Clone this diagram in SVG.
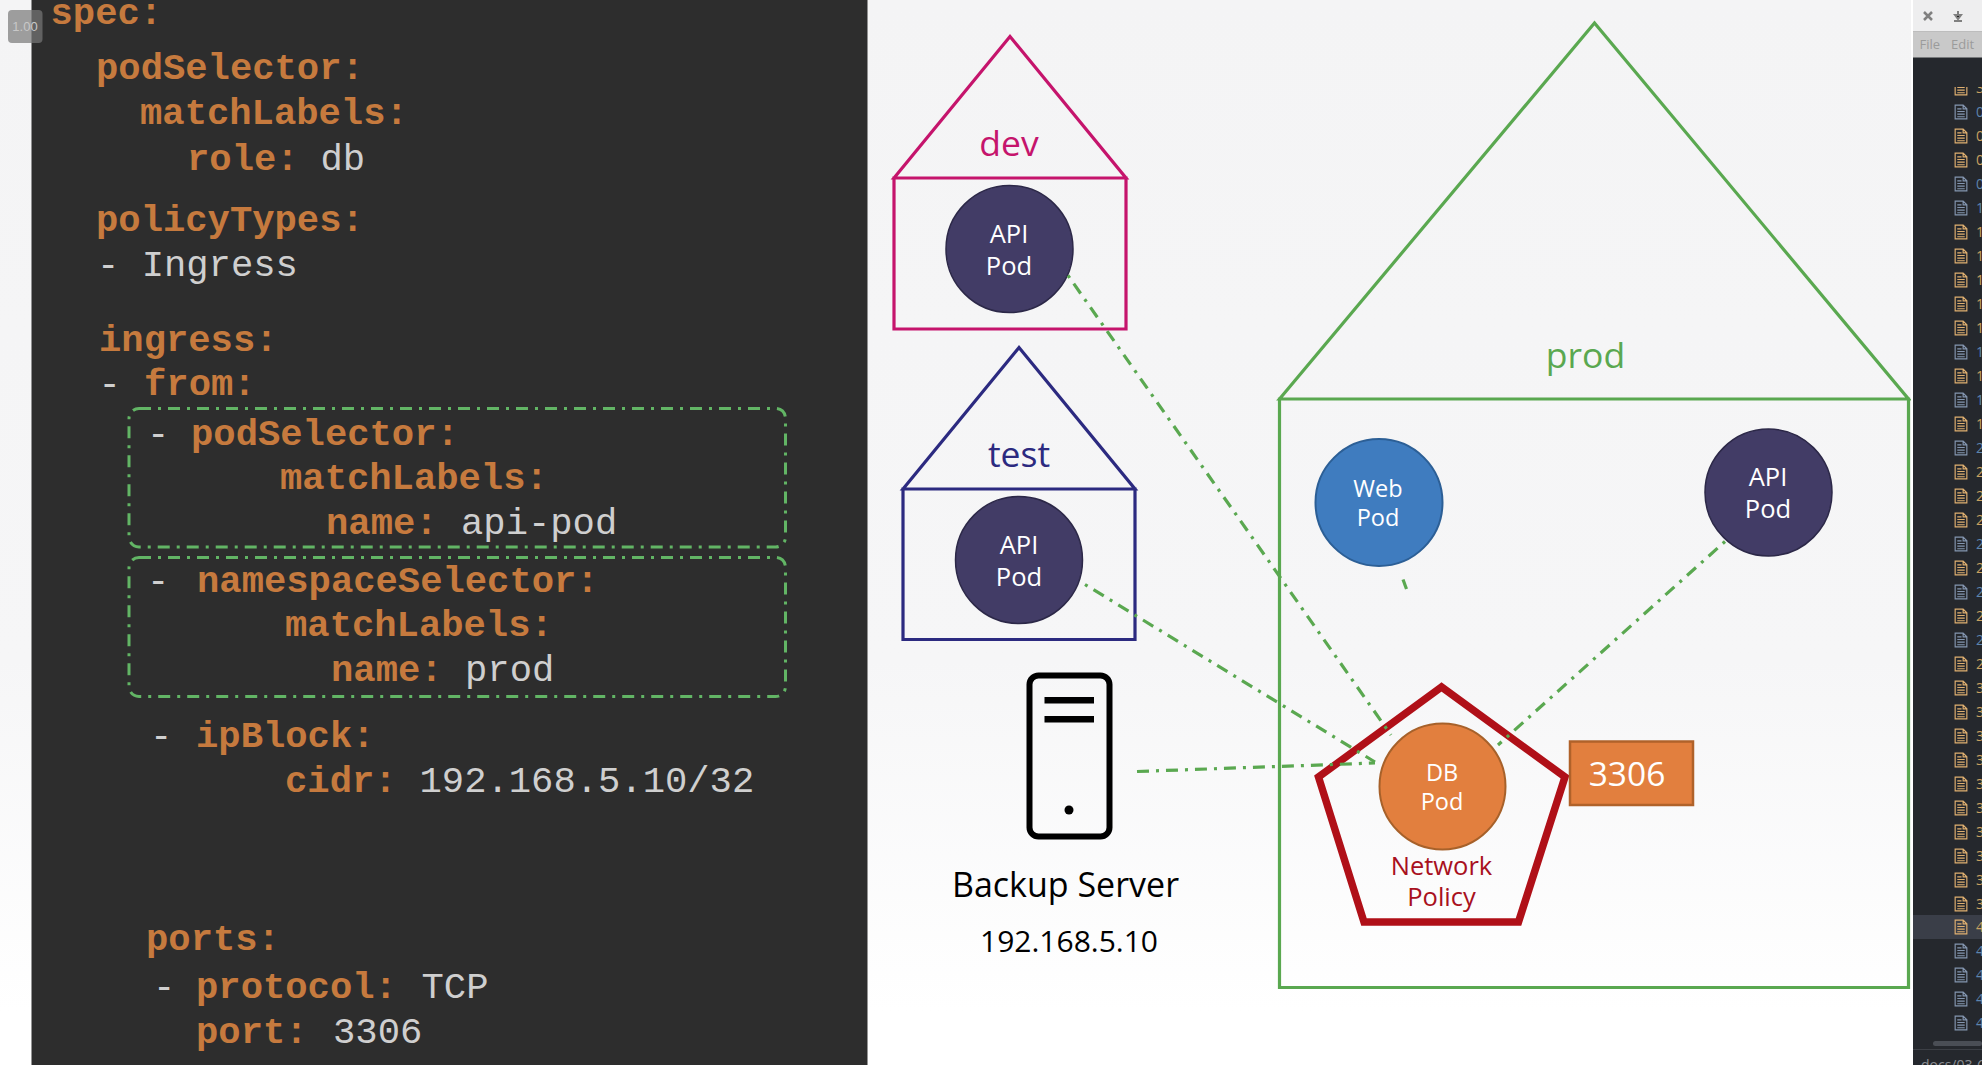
<svg xmlns="http://www.w3.org/2000/svg" width="1982" height="1065" viewBox="0 0 1982 1065">
<defs>
<linearGradient id="bg" x1="0" y1="0" x2="0" y2="1"><stop offset="0" stop-color="#f4f4f5"/><stop offset="0.62" stop-color="#f6f6f7"/><stop offset="0.95" stop-color="#ffffff"/></linearGradient>
<symbol id="doc" width="15" height="17" viewBox="0 0 14 16"><path d="M1.5 1.5H9L12.5 5V14.500H1.500Z M9 1.500V5H12.500 M3.500 5H7.500 M3.500 7.500H10.500 M3.500 10H10.500 M3.500 12.500H10.500" fill="none" stroke="currentColor" stroke-width="1.100"/></symbol>
<clipPath id="listclip"><rect x="1913" y="87" width="69" height="978"/></clipPath>
</defs>
<style>
.key{font-family:"Liberation Mono",monospace;font-weight:700;font-size:37.200px;fill:#c67a3e}
.val{font-family:"Liberation Mono",monospace;font-weight:400;font-size:37.200px;fill:#cfcfcf}
.lbl{font-family:"Open Sans","Noto Sans",sans-serif;text-anchor:middle}
.pod{font-size:25.500px;fill:#fff}
.house{fill:none;stroke-width:3.200}
.conn{fill:none;stroke:#5aa850;stroke-width:3.200;stroke-dasharray:12 7 3 7}
.dot1{stroke-dashoffset:19}
.sel{fill:none;stroke:#62b565;stroke-width:3;stroke-dasharray:12 7 3 7}
.T{color:#e0b070}.B{color:#8496b0}
.dT{fill:#c9a15f}.dB{fill:#5d84ad}
.num{font-family:"Open Sans",sans-serif;font-size:14px}
.menu{font-family:"Open Sans",sans-serif;font-size:13px;fill:#9b9b9b}
</style>

<rect width="1982" height="1065" fill="url(#bg)"/>

<g id="code-panel">
<rect x="31.500" y="0" width="836" height="1065" fill="#2d2d2d"/>
<text class="key" x="50.500" y="23.500">spec:</text>
<text class="key" x="96" y="79">podSelector:</text>
<text class="key" x="140" y="124">matchLabels:</text>
<text class="key" x="187" y="170">role:</text><text class="val" x="320.500" y="170">db</text>
<text class="key" x="96" y="231">policyTypes:</text>
<text class="val" x="97" y="276">- Ingress</text>
<text class="key" x="99" y="351">ingress:</text>
<text class="val" x="98.500" y="395">-</text><text class="key" x="144" y="395">from:</text>
<text class="val" x="147" y="445">-</text><text class="key" x="191" y="445">podSelector:</text>
<text class="key" x="280" y="489">matchLabels:</text>
<text class="key" x="326" y="534">name:</text><text class="val" x="461" y="534">api-pod</text>
<text class="val" x="147" y="592">-</text><text class="key" x="197" y="592">namespaceSelector:</text>
<text class="key" x="285" y="636">matchLabels:</text>
<text class="key" x="331" y="681">name:</text><text class="val" x="465" y="681">prod</text>
<text class="val" x="150" y="747">-</text><text class="key" x="196" y="747">ipBlock:</text>
<text class="key" x="285" y="792">cidr:</text><text class="val" x="419.500" y="792">192.168.5.10/32</text>
<text class="key" x="146" y="950">ports:</text>
<text class="val" x="153" y="997.500">-</text><text class="key" x="196" y="997.500">protocol:</text><text class="val" x="421.500" y="997.500">TCP</text>
<text class="key" x="196" y="1043">port:</text><text class="val" x="333" y="1043">3306</text>
<rect class="sel" x="129" y="408.500" width="656.500" height="138.500" rx="10"/>
<rect class="sel" x="129" y="557.500" width="656.500" height="139" rx="10"/>
</g>

<g id="speed-badge">
<rect x="8" y="10" width="34.500" height="33" rx="4" fill="#777" fill-opacity="0.7"/>
<text x="25" y="31" font-family="Liberation Sans,sans-serif" font-size="13" fill="#c8c8c8" text-anchor="middle">1.00</text>
</g>

<g id="ns-dev">
<path class="house" stroke="#c5146c" d="M894 178L1010 36.500L1126 178ZM894 178H1126V329H894Z"/>
<text class="lbl" x="1009" y="156" font-size="35.500" fill="#c5146c">dev</text>
</g>
<g id="ns-test">
<path class="house" stroke="#2c2a80" d="M903 489L1019 347.500L1135 489ZM903 489H1135V639.500H903Z"/>
<text class="lbl" x="1019" y="467" font-size="35.500" fill="#2c2a80">test</text>
</g>
<g id="ns-prod">
<path class="house" stroke="#5aa850" d="M1279.500 399L1594.500 23L1908.500 399ZM1279.500 399H1908.500V987.500H1279.500Z"/>
<text class="lbl" x="1585.500" y="367.500" font-size="35.500" fill="#5aa850">prod</text>
</g>

<g id="pod-api-dev">
<circle cx="1009.500" cy="249" r="63.500" fill="#423c66" stroke="#2c2848" stroke-width="1.500"/>
<text class="lbl pod" x="1009" y="243">API</text><text class="lbl pod" x="1009" y="275">Pod</text>
</g>
<g id="pod-api-test">
<circle cx="1019" cy="560" r="63.500" fill="#423c66" stroke="#2c2848" stroke-width="1.500"/>
<text class="lbl pod" x="1019" y="554">API</text><text class="lbl pod" x="1019" y="586">Pod</text>
</g>
<g id="pod-api-prod">
<circle cx="1768.500" cy="492.500" r="63.500" fill="#423c66" stroke="#2c2848" stroke-width="1.500"/>
<text class="lbl pod" x="1768" y="486">API</text><text class="lbl pod" x="1768" y="518">Pod</text>
</g>
<g id="pod-web">
<circle cx="1379" cy="502.500" r="63.500" fill="#3f7cbf" stroke="#2c5f96" stroke-width="2"/>
<text class="lbl" x="1378" y="497" font-size="23.500" fill="#fff">Web</text><text class="lbl" x="1378" y="526" font-size="23.500" fill="#fff">Pod</text>
</g>

<g id="network-policy">
<path d="M1441.500 687L1318.500 777L1364 922H1518.500L1565 777Z" fill="none" stroke="#b01018" stroke-width="7.500" stroke-linejoin="miter"/>
<text class="lbl" x="1441.500" y="875" font-size="25.500" fill="#a81020">Network</text>
<text class="lbl" x="1441.500" y="906" font-size="25.500" fill="#a81020">Policy</text>
</g>
<g id="pod-db">
<circle cx="1442.500" cy="786.500" r="63" fill="#e27f3e" stroke="#a7612a" stroke-width="2"/>
<text class="lbl" x="1442" y="781" font-size="23.500" fill="#fff">DB</text><text class="lbl" x="1442" y="810" font-size="23.500" fill="#fff">Pod</text>
</g>
<g id="port-3306">
<rect x="1570" y="741.500" width="123" height="63.500" fill="#e27f3e" stroke="#b0622a" stroke-width="2.500"/>
<text class="lbl" x="1627" y="786" font-size="33.500" fill="#fff">3306</text>
</g>

<g id="backup-server">
<rect x="1029.500" y="675.500" width="80" height="161" rx="9" fill="none" stroke="#000" stroke-width="6"/>
<rect x="1044.500" y="697" width="49.500" height="6.500" fill="#000"/>
<rect x="1044.500" y="716" width="49.500" height="6.500" fill="#000"/>
<circle cx="1069" cy="810" r="4.500" fill="#000"/>
<text class="lbl" x="1065.500" y="897" font-size="34" fill="#000">Backup Server</text>
<text class="lbl" x="1069" y="952" font-size="30" fill="#000">192.168.5.10</text>
</g>

<g id="connectors">
<path class="conn dot1" d="M1068 275.500L1391 735"/>
<path class="conn dot1" d="M1085 584.500L1375 762"/>
<path class="conn" d="M1137 771.500L1375 763"/>
<path class="conn dot1" d="M1725 541.500L1498 745"/>
<path fill="none" stroke="#5aa850" stroke-width="3.200" d="M1403 579.500L1406.500 589"/>
</g>

<g id="editor-sidebar">
<rect x="1911" y="0" width="2" height="1065" fill="#ffffff"/>
<rect x="1913" y="0" width="69" height="1065" fill="#25282d"/>
<rect x="1913" y="0" width="69" height="32" fill="#eeeeef"/>
<rect x="1913" y="31" width="69" height="1" fill="#bdbdbd"/>
<rect x="1913" y="32" width="69" height="25.500" fill="#c9c9c9"/>
<path d="M1924 12L1932 20M1932 12L1924 20" stroke="#808080" stroke-width="2.500"/>
<path d="M1958 11V16M1955 15L1958 19L1961 15ZM1954 21H1962" stroke="#808080" stroke-width="2"/>
<text class="menu" x="1919.500" y="49">File</text>
<text class="menu" x="1951" y="49">Edit</text>
<rect x="1913" y="915" width="69" height="24" fill="#3a3e48"/>
<g clip-path="url(#listclip)">
<use href="#doc" x="1953.500" y="79.500" class="T"/><text class="num dT" x="1976" y="93">3</text>
<use href="#doc" x="1953.500" y="103.500" class="B"/><text class="num dB" x="1976" y="117">0</text>
<use href="#doc" x="1953.500" y="127.500" class="T"/><text class="num dT" x="1976" y="141">0</text>
<use href="#doc" x="1953.500" y="151.500" class="T"/><text class="num dT" x="1976" y="165">0</text>
<use href="#doc" x="1953.500" y="175.500" class="B"/><text class="num dB" x="1976" y="189">0</text>
<use href="#doc" x="1953.500" y="199.500" class="B"/><text class="num dB" x="1976" y="213">1</text>
<use href="#doc" x="1953.500" y="223.500" class="T"/><text class="num dT" x="1976" y="237">1</text>
<use href="#doc" x="1953.500" y="247.500" class="T"/><text class="num dT" x="1976" y="261">1</text>
<use href="#doc" x="1953.500" y="271.500" class="T"/><text class="num dT" x="1976" y="285">1</text>
<use href="#doc" x="1953.500" y="295.500" class="T"/><text class="num dT" x="1976" y="309">1</text>
<use href="#doc" x="1953.500" y="319.500" class="T"/><text class="num dT" x="1976" y="333">1</text>
<use href="#doc" x="1953.500" y="343.500" class="B"/><text class="num dB" x="1976" y="357">1</text>
<use href="#doc" x="1953.500" y="367.500" class="T"/><text class="num dT" x="1976" y="381">1</text>
<use href="#doc" x="1953.500" y="391.500" class="B"/><text class="num dB" x="1976" y="405">1</text>
<use href="#doc" x="1953.500" y="415.500" class="T"/><text class="num dT" x="1976" y="429">1</text>
<use href="#doc" x="1953.500" y="439.500" class="B"/><text class="num dB" x="1976" y="453">2</text>
<use href="#doc" x="1953.500" y="463.500" class="T"/><text class="num dT" x="1976" y="477">2</text>
<use href="#doc" x="1953.500" y="487.500" class="T"/><text class="num dT" x="1976" y="501">2</text>
<use href="#doc" x="1953.500" y="511.500" class="T"/><text class="num dT" x="1976" y="525">2</text>
<use href="#doc" x="1953.500" y="535.500" class="B"/><text class="num dB" x="1976" y="549">2</text>
<use href="#doc" x="1953.500" y="559.500" class="T"/><text class="num dT" x="1976" y="573">2</text>
<use href="#doc" x="1953.500" y="583.500" class="B"/><text class="num dB" x="1976" y="597">2</text>
<use href="#doc" x="1953.500" y="607.500" class="T"/><text class="num dT" x="1976" y="621">2</text>
<use href="#doc" x="1953.500" y="631.500" class="B"/><text class="num dB" x="1976" y="645">2</text>
<use href="#doc" x="1953.500" y="655.500" class="T"/><text class="num dT" x="1976" y="669">2</text>
<use href="#doc" x="1953.500" y="679.500" class="T"/><text class="num dT" x="1976" y="693">3</text>
<use href="#doc" x="1953.500" y="703.500" class="T"/><text class="num dT" x="1976" y="717">3</text>
<use href="#doc" x="1953.500" y="727.500" class="T"/><text class="num dT" x="1976" y="741">3</text>
<use href="#doc" x="1953.500" y="751.500" class="T"/><text class="num dT" x="1976" y="765">3</text>
<use href="#doc" x="1953.500" y="775.500" class="T"/><text class="num dT" x="1976" y="789">3</text>
<use href="#doc" x="1953.500" y="799.500" class="T"/><text class="num dT" x="1976" y="813">3</text>
<use href="#doc" x="1953.500" y="823.500" class="T"/><text class="num dT" x="1976" y="837">3</text>
<use href="#doc" x="1953.500" y="847.500" class="T"/><text class="num dT" x="1976" y="861">3</text>
<use href="#doc" x="1953.500" y="871.500" class="T"/><text class="num dT" x="1976" y="885">3</text>
<use href="#doc" x="1953.500" y="895.500" class="T"/><text class="num dT" x="1976" y="909">3</text>
<use href="#doc" x="1953.500" y="918.500" class="T"/><text class="num dT" x="1976" y="932">4</text>
<use href="#doc" x="1953.500" y="942.500" class="B"/><text class="num dB" x="1976" y="956">4</text>
<use href="#doc" x="1953.500" y="966.500" class="B"/><text class="num dB" x="1976" y="980">4</text>
<use href="#doc" x="1953.500" y="990.500" class="B"/><text class="num dB" x="1976" y="1004">4</text>
<use href="#doc" x="1953.500" y="1014.500" class="B"/><text class="num dB" x="1976" y="1028">4</text>
</g>
<rect x="1933" y="1041" width="49" height="5" rx="2.500" fill="#4a4e55"/>
<rect x="1913" y="1049" width="69" height="1" fill="#3c3f45"/>
<text x="1921" y="1070" font-family="Open Sans,sans-serif" font-size="14" fill="#8a8d92">docs/03-Cl</text>
</g>
</svg>
